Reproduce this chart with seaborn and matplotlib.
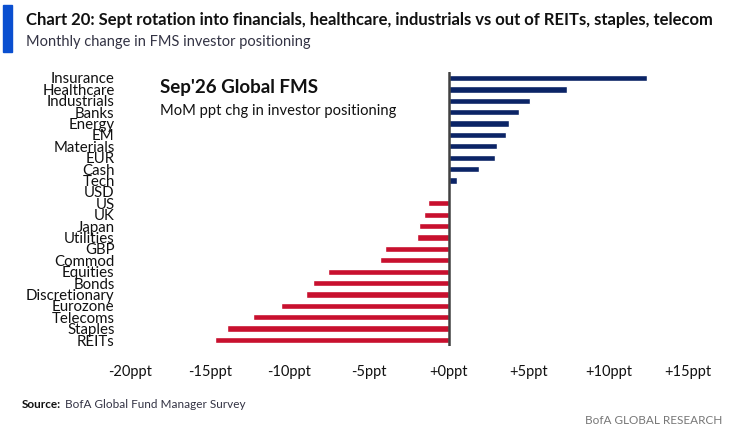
import matplotlib
matplotlib.use("Agg")
import matplotlib.pyplot as plt
import seaborn as sns
import pandas as pd
import numpy as np

categories = ["Insurance", "Healthcare", "Industrials", "Banks", "Energy", "EM",
              "Materials", "EUR", "Cash", "Tech", "USD", "US", "UK", "Japan",
              "Utilities", "GBP", "Commod", "Equities", "Bonds", "Discretionary",
              "Eurozone", "Telecoms", "Staples", "REITs"]
values = [12.4, 7.4, 5.1, 4.4, 3.8, 3.6, 3.0, 2.9, 1.9, 0.5, 0.0, -1.3, -1.55,
          -1.85, -2.0, -4.0, -4.3, -7.6, -8.5, -8.95, -10.55, -12.3, -13.9, -14.65]
tick_values = [-20, -15, -10, -5, 0, 5, 10, 15]
tick_labels = ["-20ppt", "-15ppt", "-10ppt", "-5ppt", "+0ppt", "+5ppt", "+10ppt", "+15ppt"]

df = pd.DataFrame({"category": categories, "value": values})
df["sign"] = np.where(df["value"] >= 0, "pos", "neg")

sns.set_style("white")
plt.rcParams["font.family"] = ["Lato", "DejaVu Sans"]

fig = plt.figure(figsize=(7.3, 4.33), dpi=100)
ax = fig.add_axes([130 / 730, 1 - 345.7 / 433, (688 - 130) / 730, (345.7 - 72.3) / 433])

sns.barplot(data=df, x="value", y="category", hue="sign", dodge=False,
            palette={"pos": "#0b2466", "neg": "#c8102e"}, width=0.55,
            legend=False, ax=ax, order=categories, saturation=1)

ax.set_xlim(-20, 15)
ax.set_ylim(len(categories) - 0.5, -0.5)
ax.axvline(0, color="#404040", lw=1.8, zorder=5)
for s in ax.spines.values():
    s.set_visible(False)
ax.set_xticks(tick_values)
ax.set_xticklabels(tick_labels, fontsize=10.5, color="#111111")
ax.tick_params(axis="x", length=0, pad=14)
ax.tick_params(axis="y", length=0, pad=11)
for lab in ax.get_yticklabels():
    lab.set_fontsize(10.8)
    lab.set_color("#111111")
ax.set_xlabel("")
ax.set_ylabel("")

# Header
fig.patches.append(plt.Rectangle((3 / 730, 1 - 52 / 433), 9 / 730, 47 / 433,
                                 transform=fig.transFigure, color="#0a4fd0", zorder=1))
fig.text(26 / 730, 1 - 20 / 433, "Chart 20: Sept rotation into financials, healthcare, industrials vs out of REITs, staples, telecom",
         fontsize=12, fontweight="bold", color="#111111", va="center", ha="left")
fig.text(26 / 730, 1 - 42 / 433, "Monthly change in FMS investor positioning",
         fontsize=10.5, color="#333344", va="center", ha="left")

# Inset annotation
fig.text(160 / 730, 1 - 88 / 433, "Sep'26 Global FMS", fontsize=13.5, fontweight="bold",
         color="#111111", va="center", ha="left")
fig.text(160 / 730, 1 - 111 / 433, "MoM ppt chg in investor positioning", fontsize=10.6,
         color="#111111", va="center", ha="left")

# Footer
fig.text(22 / 730, 1 - 404 / 433, "Source:", fontsize=8.5, fontweight="bold",
         color="#111111", va="center", ha="left")
fig.text(65 / 730, 1 - 404 / 433, "BofA Global Fund Manager Survey", fontsize=8.5,
         color="#333344", va="center", ha="left")
fig.text(722 / 730, 1 - 421 / 433, "BofA GLOBAL RESEARCH", fontsize=8.5,
         color="#777777", va="center", ha="right")

fig.savefig("out.png", dpi=100)
